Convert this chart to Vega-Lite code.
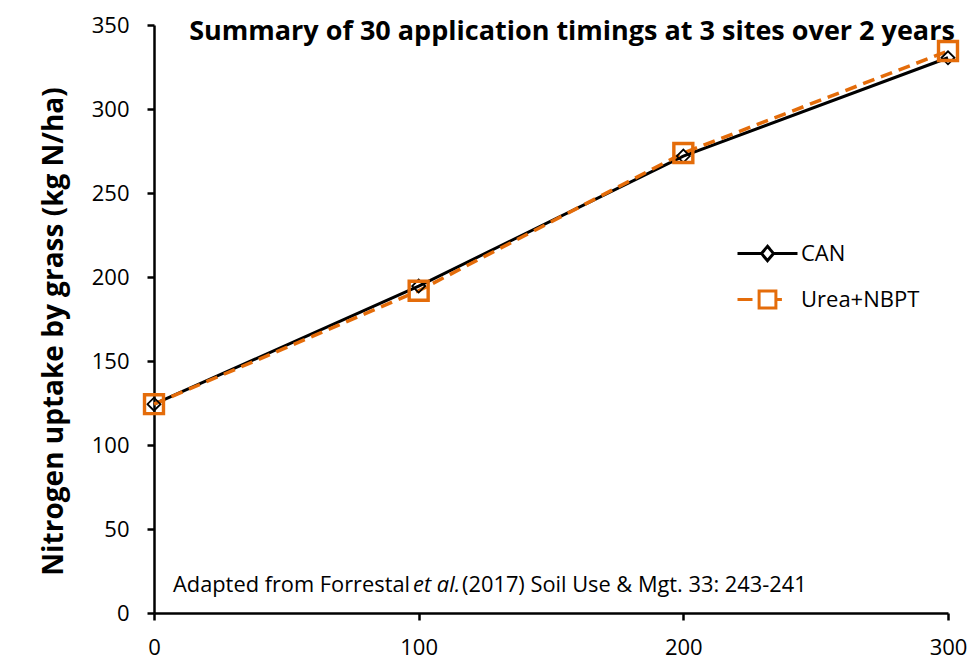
{
  "$schema": "https://vega.github.io/schema/vega-lite/v6.json",
  "width": 794,
  "height": 588,
  "autosize": {"type": "none"},
  "padding": {"left": 154, "top": 25, "right": 31, "bottom": 53},
  "background": "white",
  "config": {
    "view": {"stroke": null},
    "font": "Open Sans",
    "axis": {"grid": false, "domainColor": "black", "domainWidth": 2.5, "tickColor": "black", "tickWidth": 2.5, "tickSize": 7, "labelColor": "black", "labelFontSize": 22, "labelFont": "Open Sans"}
  },
  "title": {"text": "Summary of 30 application timings at 3 sites over 2 years", "fontSize": 27, "fontWeight": "bold", "font": "Open Sans", "color": "black", "anchor": "middle", "baseline": "alphabetic", "offset": -53, "dx": 21},
  "datasets": {
    "series": [
      {"rate": 0, "uptake": 124.3, "series": "CAN"},
      {"rate": 100, "uptake": 194.6, "series": "CAN"},
      {"rate": 200, "uptake": 272, "series": "CAN"},
      {"rate": 300, "uptake": 330.5, "series": "CAN"},
      {"rate": 0, "uptake": 124.3, "series": "Urea+NBPT"},
      {"rate": 100, "uptake": 191.8, "series": "Urea+NBPT"},
      {"rate": 200, "uptake": 273.8, "series": "Urea+NBPT"},
      {"rate": 300, "uptake": 334.5, "series": "Urea+NBPT"}
    ],
    "notes": [
      {"x": 7.2, "y": 16.7, "text": "Adapted from Forrestal", "style": "normal"},
      {"x": 97.9, "y": 16.7, "text": "et al.", "style": "italic"},
      {"x": 116.4, "y": 16.7, "text": "(2017) Soil Use & Mgt. 33: 243-241", "style": "normal"}
    ]
  },
  "layer": [
    {
      "data": {"name": "series"},
      "transform": [{"filter": "datum.series === 'CAN'"}],
      "mark": {"type": "line", "strokeWidth": 3},
      "encoding": {
        "x": {"field": "rate", "type": "quantitative", "scale": {"domain": [0, 300], "nice": false}, "axis": {"values": [0, 100, 200, 300], "title": null, "labelPadding": 17, "labelFlush": false}},
        "y": {"field": "uptake", "type": "quantitative", "scale": {"domain": [0, 350], "nice": false}, "axis": {"values": [0, 50, 100, 150, 200, 250, 300, 350], "title": "Nitrogen uptake by grass  (kg N/ha)", "titleFontSize": 28, "titleFontWeight": "bold", "titleColor": "black", "titleFont": "Open Sans", "titlePadding": 23, "titleY": 306, "labelPadding": 18}},
        "color": {"field": "series", "type": "nominal", "scale": {"domain": ["CAN", "Urea+NBPT"], "range": ["black", "#e46c0a"]},
          "legend": {"title": null, "orient": "none", "legendX": 600, "legendY": 215, "labelFontSize": 22, "labelColor": "black", "labelFont": "Open Sans", "symbolSize": 576, "symbolStrokeWidth": 3, "rowPadding": 18, "labelOffset": 20,
            "encode": {"symbols": {"update": {
              "shape": {"signal": "datum.value === 'CAN' ? 'M-2.5,0H-0.5M0.5,0H2.5M-0.5,0L0,-0.6L0.5,0L0,0.6Z' : 'M-2.5,0H-1.25M-0.7,-0.7H0.7V0.7H-0.7ZM0.7,0H1.2'"},
              "fill": {"value": "white"},
              "strokeDash": {"value": [1, 0]}
            }}}}}
      }
    },
    {
      "data": {"name": "series"},
      "transform": [{"filter": "datum.series === 'Urea+NBPT'"}],
      "mark": {"type": "line", "strokeWidth": 3.5, "strokeDash": [12, 7]},
      "encoding": {
        "x": {"field": "rate", "type": "quantitative"},
        "y": {"field": "uptake", "type": "quantitative"},
        "color": {"field": "series", "type": "nominal", "legend": null}
      }
    },
    {
      "data": {"name": "series"},
      "transform": [{"filter": "datum.series === 'CAN'"}],
      "mark": {"type": "point", "shape": "diamond", "filled": false, "opacity": 1, "size": 170, "strokeWidth": 1.8},
      "encoding": {
        "x": {"field": "rate", "type": "quantitative"},
        "y": {"field": "uptake", "type": "quantitative"},
        "color": {"field": "series", "type": "nominal", "legend": null}
      }
    },
    {
      "data": {"name": "series"},
      "transform": [{"filter": "datum.series === 'Urea+NBPT'"}],
      "mark": {"type": "point", "shape": "square", "filled": false, "opacity": 1, "size": 360, "strokeWidth": 3.4},
      "encoding": {
        "x": {"field": "rate", "type": "quantitative"},
        "y": {"field": "uptake", "type": "quantitative"},
        "color": {"field": "series", "type": "nominal", "legend": null}
      }
    },
    {
      "data": {"name": "notes"},
      "transform": [{"filter": "datum.style === 'normal'"}],
      "mark": {"type": "text", "align": "left", "baseline": "middle", "fontSize": 21.8, "font": "Open Sans", "color": "black"},
      "encoding": {
        "x": {"field": "x", "type": "quantitative"},
        "y": {"field": "y", "type": "quantitative"},
        "text": {"field": "text"}
      }
    },
    {
      "data": {"name": "notes"},
      "transform": [{"filter": "datum.style === 'italic'"}],
      "mark": {"type": "text", "align": "left", "baseline": "middle", "fontSize": 21.8, "font": "Open Sans", "fontStyle": "italic", "color": "black"},
      "encoding": {
        "x": {"field": "x", "type": "quantitative"},
        "y": {"field": "y", "type": "quantitative"},
        "text": {"field": "text"}
      }
    }
  ]
}
